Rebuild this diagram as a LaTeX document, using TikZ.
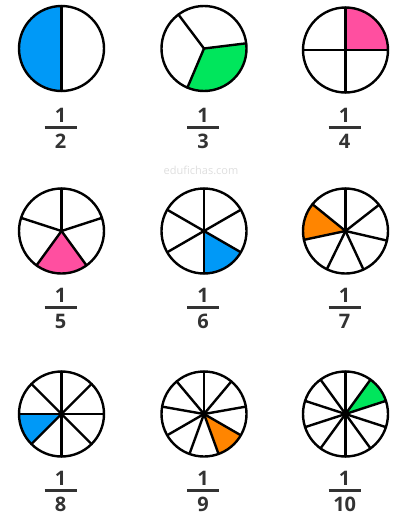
\documentclass[tikz,border=0pt]{standalone}
\usepackage{fontspec}
\setmainfont{Open Sans}
\usepackage{tikz}
\usetikzlibrary{positioning}
\definecolor{pieblue}{HTML}{0099F7}
\definecolor{piegreen}{HTML}{00E65C}
\definecolor{piepink}{HTML}{FF4FA0}
\definecolor{pieorange}{HTML}{FF8500}
\definecolor{numgray}{HTML}{333333}

\begin{document}
\begin{tikzpicture}[x=1pt,y=1pt,line width=2.4pt,pie/.style={circle,minimum size=85pt,inner sep=0pt,outer sep=0pt},num/.style={font=\fontsize{20}{20}\selectfont\bfseries,text=numgray,inner sep=0pt},bar/.style={draw=numgray,line width=3pt},wmark/.style={font=\fontsize{11}{11}\selectfont,text=black!13}]
\useasboundingbox (0,0) rectangle (397,-514);
\node[wmark] (site) at (201,-170) {edufichas.com};
% n / centre x / centre y / bar y / first spoke / shaded slice / colour
\foreach \n/\x/\y/\b/\o/\k/\col in {2/61.5/48.5/127/90/0/pieblue,3/204/48.5/127/7/2/piegreen,4/345.5/50/127/0/0/piepink,5/61.5/231/307/90/2/piepink,6/204/231/307/90/3/pieblue,7/345.5/231/307/90/1/pieorange,8/61.5/414/490/0/4/pieblue,9/204/414/490/90/5/pieorange,10/345.5/414/490/18/0/piegreen}{
  \pgfmathsetmacro{\sa}{\o+\k*360/\n}
  \node[pie] (p\n) at (\x,-\y) {};
  \fill[\col] (p\n.center) -- (p\n.\sa) arc[start angle=\sa,delta angle=360/\n,radius=42.5pt] -- cycle;
  \foreach \i in {1,...,\n}{
    \pgfmathsetmacro{\sp}{\o+\i*360/\n}
    \draw[line cap=round] (p\n.center) -- (p\n.\sp);
  }
  \draw (p\n.center) circle[radius=42.5pt];
  \node[num] (num\n) at (\x-0.8,-\b+12) {1};
  \node[num] (den\n) at (\x-0.8,-\b-14.5) {\n};
  \draw[bar] (\x-16.8,-\b) -- (\x+15.2,-\b);
}
\end{tikzpicture}
\end{document}
